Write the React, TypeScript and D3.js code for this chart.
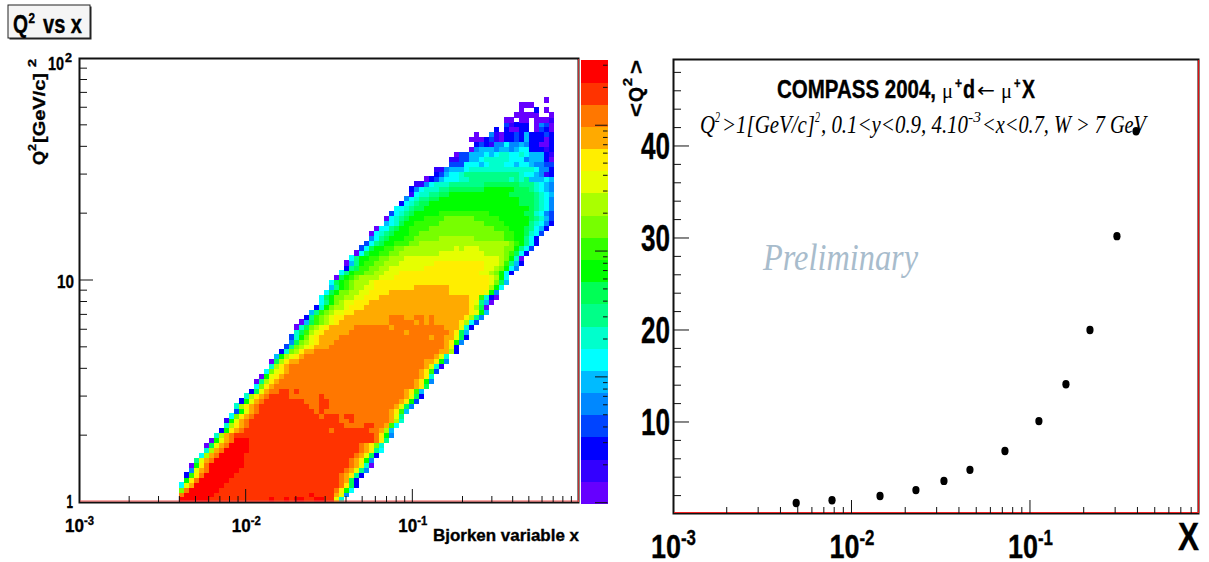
import React from "react";
import * as d3 from "d3";

// Histogram levels, lowest (a) to highest (t)
const levelColors = ["#6600ff","#3300ff","#0000ff","#0044ff","#0088ff","#00bbff","#00ffff","#00ffcc","#00ff88","#00ff55","#00ff00","#33ff00","#77ff00","#aaff00","#e6ff00","#ffee00","#ffaa00","#ff7700","#ff3300","#ff0000"];
const levelKeys = "abcdefghijklmnopqrst";

// Row by row from Q2=1 upward: first occupied x bin, then run-length coded levels
const heatRows: [number, string][] = [
[20,"t6 s12 t s2 t s t2 s2 t2 s2 o h"],
[20,"r t6 s19 t s4 q o e"],
[20,"m r t6 s23 r p k g"],
[20,"g o q t6 s23 r p j c"],
[21,"k p r t6 s22 r q j c"],
[21,"c l p r t6 s21 r q p i c"],
[22,"e o q r t6 s21 r q o i e"],
[22,"a k p r t7 s21 r q o h a"],
[23,"i o q r t6 s21 r q p k e"],
[24,"g n q r t5 s22 r q o j c"],
[25,"h n q r t5 s22 r q p i g"],
[25,"a j o q r t4 s22 r q p m h"],
[26,"a k o q r t3 s25 r p i"],
[27,"h n q r s28 r p k e"],
[28,"c k p q r s17 r s7 r2 q n f"],
[29,"h n p q r s19 r4 s2 r2 q l g"],
[29,"b k o q r s18 r2 s r7 q n h"],
[30,"g m p q r s13 r s3 r s2 r7 q o i"],
[31,"d k o q r s11 r s r13 q p l f"],
[31,"h n p q r s10 r2 s2 r13 q o j e"],
[32,"c k o q r s8 r3 s2 r14 q p k d"],
[33,"h n p q r s4 r6 s r16 q o j c"],
[34,"c j o q r r s2 r s r21 q p l f"],
[35,"g m p q r28 q p j"],
[35,"a i n p q r27 q p k e"],
[36,"a k o p q r27 q p h"],
[37,"g m o p q r26 q p l d"],
[38,"h n p q r27 q o h b"],
[38,"a j n p q2 r25 q2 p k e"],
[39,"f k n o p q r26 q o h"],
[40,"c h m n p q2 r25 q2 n c"],
[41,"d i m n o p q3 r23 q o c"],
[42,"e j m n o p q3 r22 q p k e"],
[42,"d h k m o p q4 r18 q r2 q2 o j c"],
[43,"h j l n o p q5 r11 q r8 q p j f"],
[43,"a h j m n o p q5 r7 q r10 q3 o h c"],
[44,"a f j l m n o p q10 r5 q r q r q5 p n g d"],
[45,"c i l m n o p2 q9 r3 q2 r2 q r q6 p n i e"],
[46,"f i l m n o2 p2 q23 p o k f"],
[47,"c h k m n2 o p3 q21 p n j a"],
[48,"g i k m n o2 p3 q20 p o i f a"],
[48,"g j k m2 n2 o2 p3 q18 p2 l h c a"],
[49,"g j k m2 n2 o2 p4 q12 p7 o k e"],
[50,"f i k l m n2 o2 p8 q7 p8 n k g"],
[50,"g j k l m n3 o p23 o m j f"],
[51,"a j k l m n4 o3 p19 o n k g"],
[52,"g i k l2 m2 n2 o3 p16 o2 n m k g c"],
[53,"c i j l2 m2 n2 o7 p12 o2 n m k g e"],
[53,"a f i k l2 m2 n3 o7 p10 o3 n l i f c"],
[54,"g i k2 l2 m2 n3 o19 n m k h a"],
[55,"a g j k2 l2 m2 n8 o9 n4 m l j g c"],
[56,"d g j k2 l2 m2 n10 o n o3 n5 m2 k i g d"],
[57,"d g i j k2 l3 m2 n18 m l k i g c"],
[58,"e g i j k3 l2 m5 n7 m6 l2 k2 i g c"],
[58,"a g h i j k3 l2 m17 l2 k2 j h g d"],
[59,"a g2 i j k2 l4 m13 l3 k3 j i g f c"],
[61,"f g h j k2 l5 m9 l4 k5 i h g e c"],
[61,"a g h i j k3 l4 m6 l5 k6 j i h f d"],
[62,"d g h i j k5 l10 k7 j2 h g e d"],
[63,"g2 h i j2 k21 j i h g e"],
[64,"c g h i j2 k18 j3 i h g e"],
[65,"e g h i2 j2 k16 j3 i h g e"],
[66,"b g h2 i2 j2 k12 j5 i h g f"],
[66,"c e g h3 i2 j7 k6 j3 i h g f e"],
[67,"b2 e g h3 i7 j7 i3 h g f e"],
[69,"a c d f g3 h2 i8 h i h i f3 g f"],
[71,"c d f g2 h i11 h g2 f e b c"],
[71,"b2 e f3 g h13 g e2 c"],
[74,"d3 g3 f g h3 g2 f g2 f e2 d2"],
[74,"b2 d2 f2 g h5 g3 e f3 c a"],
[75,"a d2 f3 g f g h2 g2 h g f3 c b"],
[78,"a e f3 e f2 e f g2 c3 b c"],
[79,"c d c b e2 g e2 f e c2 a2 c"],
[78,"a3 c d b a c2 d c f c3 a c"],
[79,"a _2 e b a c2 d c f c3 d c"],
[83,"c _ c a2 c2 _ a d c a"],
[85,"d b c3 _ a e d a"],
[85,"a2 _ a2 _ a3 b"],
[87,"a5 _2 a"],
[88,"a _2 c _ a"],
[88,"a3"],
[93,"a"],
];
const xBinCount = 100;
const yBinCount = 90;

// Right panel: <Q2> against x
const meanX = [0.0049,0.00778,0.01445,0.02296,0.03296,0.0461,0.0724,0.1122,0.159,0.2168,0.307,0.393];
const meanQ2 = [1.2,1.5,1.95,2.6,3.6,4.8,6.85,10.1,14.1,20,30.2,41.6];
const meanYTicks = [10,20,30,40];

const decades = [1e-3,1e-2,1e-1];
const decadeLabels = ["-3","-2","-1"];

const SANS = "'Liberation Sans', Arial, sans-serif";
const SERIF = "'Liberation Serif', 'Times New Roman', serif";

function T({x,y,len,size,bold=true,italic=false,family=SANS,fill="#000",rotate=false,children}:any){
  return <text x={x} y={y} fontSize={size} fontFamily={family} fontWeight={bold?"bold":"normal"} fontStyle={italic?"italic":"normal"} fill={fill}
    stroke={bold?fill:"none"} strokeWidth={bold?0.35:0}
    textLength={len} lengthAdjust="spacingAndGlyphs" transform={rotate?`rotate(-90 ${x} ${y})`:undefined}>{children}</text>;
}

function logMinor(lo:number,hi:number){
  const out:{v:number,major:boolean}[]=[];
  for(let e=lo;e<hi;e++){for(let m=1;m<10;m++){out.push({v:m*Math.pow(10,e),major:m===1});}}
  return out;
}

export default function App(){
  document.body.style.margin="0";
  const xL=d3.scaleLog().domain([1e-3,1]).range([79,579]);
  const yL=d3.scaleLog().domain([1,100]).range([502,58]);
  const xR=d3.scaleLog().domain([1e-3,0.885]).range([673,1199]);
  const yR=d3.scaleLinear().domain([0,49.4]).range([514,59.5]);
  const barY=d3.scaleLinear().domain([0,levelColors.length]).range([503.5,60]);
  const barTick=d3.scaleLog().domain([1,3300]).range([502.7,60]);

  const cells:any[]=[];
  heatRows.forEach(([start,code],r)=>{
    let c=start;
    for(const m of code.matchAll(/([a-t_])(\d*)/g)){
      const n=m[2]?+m[2]:1;
      for(let i=0;i<n;i++,c++){
        if(m[1]==="_")continue;
        const x0=xL(Math.pow(10,-3+3*c/xBinCount)),x1=xL(Math.pow(10,-3+3*(c+1)/xBinCount));
        const y0=yL(Math.pow(10,2*r/yBinCount)),y1=yL(Math.pow(10,2*(r+1)/yBinCount));
        cells.push(<rect key={r+"-"+c} x={x0} y={y1} width={x1-x0+0.4} height={y0-y1+0.4} fill={levelColors[levelKeys.indexOf(m[1])]}/>);
      }
    }
  });

  const lineS={stroke:"#111",strokeWidth:1};
  return (
  <svg width={1209} height={562} style={{position:"absolute",left:0,top:0,display:"block",background:"#fff"}}>
    {/* title */}
    <rect x={9.5} y={6.5} width={82} height={33} fill="#222"/>
    <rect x={8} y={5} width={82} height={33} fill="#f5f5f5" stroke="#222" strokeWidth={1}/>
    <T x={13} y={33} len={15} size={25}>Q</T>
    <T x={28.5} y={23} len={6.5} size={14}>2</T>
    <T x={43} y={33} len={39} size={25}>vs x</T>

    {/* left panel */}
    <g shapeRendering="crispEdges">{cells}</g>
    <rect x={79.5} y={58.5} width={499} height={444} fill="none" stroke="#111" strokeWidth={2}/>
    <line x1={578.5} x2={578.5} y1={59} y2={502} stroke="#c03030" strokeWidth={1}/>
    <line x1={80} x2={579} y1={501} y2={501} stroke="#f05050" strokeWidth={1}/>
    {logMinor(-3,0).slice(1).map((t,i)=><line key={i} x1={xL(t.v)} x2={xL(t.v)} y1={502} y2={t.major?489:496} {...lineS}/>)}
    {logMinor(0,2).slice(1).map((t,i)=><line key={i} x1={79} x2={t.major?93:87} y1={yL(t.v)} y2={yL(t.v)} {...lineS}/>)}
    <T x={48} y={70} len={16} size={19}>10</T>
    <T x={65} y={62} len={7} size={12}>2</T>
    <T x={57} y={288} len={17} size={19}>10</T>
    <T x={66.5} y={508} len={6.5} size={19}>1</T>
    {decades.map((d,i)=><g key={i}>
      <T x={xL(d)-14} y={532} len={19} size={19}>10</T>
      <T x={xL(d)+5} y={525} len={10} size={12}>{decadeLabels[i]}</T>
    </g>)}
    <T x={433} y={541} len={146} size={17}>Bjorken variable x</T>
    <T x={45} y={165} len={14} size={17} rotate>Q</T>
    <T x={36} y={151} len={7} size={11} rotate>2</T>
    <T x={45} y={143} len={70} size={17} rotate>[GeV/c]</T>
    <T x={36} y={67} len={8} size={11} rotate>2</T>

    {/* colour bar */}
    <g shapeRendering="crispEdges">
      {levelColors.map((c,i)=><rect key={i} x={581} y={barY(i+1)} width={26.5} height={barY(i)-barY(i+1)+0.4} fill={c}/>)}
    </g>
    {logMinor(0,4).filter(t=>t.v<=3000).map((t,i)=><line key={i} x1={t.major?595:603} x2={607.5} y1={barTick(t.v)} y2={barTick(t.v)} {...lineS}/>)}

    {/* right panel */}
    <rect x={673.5} y={59.5} width={525} height={454} fill="none" stroke="#111" strokeWidth={2}/>
    <line x1={1198.5} x2={1198.5} y1={60} y2={513} stroke="#e01010" strokeWidth={1.2}/>
    <line x1={674} x2={1199} y1={512.5} y2={512.5} stroke="#f02020" strokeWidth={1.2}/>
    {logMinor(-3,0).slice(1).filter(t=>t.v<0.885).map((t,i)=><line key={i} x1={xR(t.v)} x2={xR(t.v)} y1={513} y2={t.major?500:507} {...lineS}/>)}
    {d3.range(2,50,2).map(v=><line key={v} x1={673} x2={v%10===0?689:681} y1={yR(v)} y2={yR(v)} {...lineS}/>)}
    {meanYTicks.map(v=><T key={v} x={641} y={yR(v)+13} len={29} size={36}>{v}</T>)}
    {decades.map((d,i)=><g key={i}>
      <T x={xR(d)-22} y={558} len={30} size={34}>10</T>
      <T x={xR(d)+8} y={545} len={15} size={22}>{decadeLabels[i]}</T>
    </g>)}
    <T x={1178} y={550} len={21} size={39}>X</T>
    <T x={643} y={117} len={14} size={20} rotate>&lt;</T>
    <T x={643} y={102} len={15} size={20} rotate>Q</T>
    <T x={632} y={86} len={8} size={12} rotate>2</T>
    <T x={643} y={74} len={14} size={20} rotate>&gt;</T>

    <T x={777} y={98} len={159} size={25}>COMPASS 2004,</T>
    <T x={942} y={98} len={11} size={22} bold={false} family={SERIF}>μ</T>
    <T x={955} y={88} len={7} size={15}>+</T>
    <T x={963} y={98} len={12} size={25}>d</T>
    <T x={977} y={97} len={18} size={20} bold={false} family="'DejaVu Sans', sans-serif">←</T>
    <T x={1001} y={98} len={11} size={22} bold={false} family={SERIF}>μ</T>
    <T x={1014} y={88} len={6.5} size={15}>+</T>
    <T x={1022} y={98} len={13} size={25}>X</T>

    <T x={700} y={133} len={15} size={25} bold={false} italic family={SERIF}>Q</T>
    <T x={715} y={122} len={5} size={15} bold={false} italic family={SERIF}>2</T>
    <T x={722} y={133} len={93} size={25} bold={false} italic family={SERIF}>&gt;1[GeV/c]</T>
    <T x={815} y={122} len={5} size={15} bold={false} italic family={SERIF}>2</T>
    <T x={821} y={133} len={147} size={25} bold={false} italic family={SERIF}>, 0.1&lt;y&lt;0.9, 4.10</T>
    <T x={968} y={122} len={13} size={15} bold={false} italic family={SERIF}>-3</T>
    <T x={982} y={133} len={164} size={25} bold={false} italic family={SERIF}>&lt;x&lt;0.7, W &gt; 7 GeV</T>
    <T x={763} y={270} len={155} size={38} bold={false} italic family={SERIF} fill="#a8bccc">Preliminary</T>

    {meanX.map((x,i)=><ellipse key={i} cx={xR(x)} cy={yR(meanQ2[i])} rx={3.6} ry={4.2} fill="#000"/>)}
  </svg>);
}
